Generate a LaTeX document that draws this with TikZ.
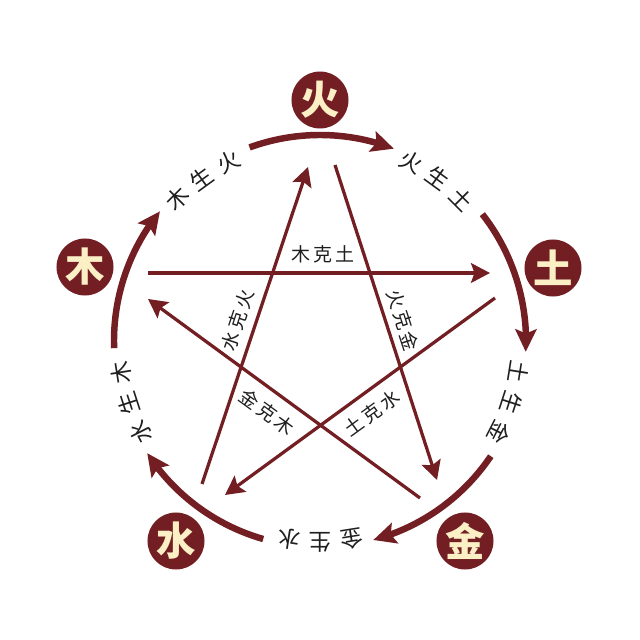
\documentclass[tikz,border=0pt]{standalone}
\usepackage{fontspec}
\newfontfamily\cjk{Noto Sans CJK SC}
\usetikzlibrary{arrows.meta,bending}
\definecolor{wred}{HTML}{721E23}
\definecolor{cream}{HTML}{FBEFC6}
\definecolor{ink}{HTML}{1E1E1E}
\begin{document}
\begin{tikzpicture}[x=0.025cm,y=0.025cm,
  elem/.style={circle, fill=wred, minimum size=1.425cm, inner sep=0pt, text=cream,
    font=\cjk\bfseries\fontsize{28}{28}\selectfont},
  ke/.style={wred, line width=2.3pt, -{Stealth[length=13.5pt,width=14pt,inset=2.5pt]}},
  sheng/.style={wred, line width=4.6pt, -{Stealth[length=16pt,width=15pt,inset=3pt]}},
  lab/.style={font=\cjk\fontsize{13.5}{14}\selectfont, text=ink, inner sep=1pt},
  arclab/.style={font=\cjk\fontsize{16}{16}\selectfont, text=ink, inner sep=0pt}
]
\useasboundingbox (0,0) rectangle (640,640);
\fill[white] (0,0) rectangle (640,640);
\coordinate (c) at (320,299);

% sheng arcs
\foreach \e in {162,90,18,-54,-126}{
  \draw[sheng] ([shift={({\e+20}:206)}]c) arc[start angle=\e+20, end angle=\e-21, radius=5.15cm];
}

% sheng labels along the ring
\foreach \m/\a/\b/\d [count=\i] in {126/木/生/火, 54/火/生/土, -18/土/生/金, -90/金/生/水, 198/水/生/木}{
  \node[arclab, rotate=\m+9-90] (s\i-1) at ([shift={({\m+9}:201)}]c) {\a};
  \node[arclab, rotate=\m-90] (s\i-2) at ([shift={(\m:201)}]c) {\b};
  \node[arclab, rotate=\m-9-90] (s\i-3) at ([shift={({\m-9}:201)}]c) {\d};
}

% ke lines
\coordinate (mkA) at (148,367); \coordinate (mkB) at (490,367);
\coordinate (hjA) at (335,475); \coordinate (hjB) at (437,160);
\coordinate (tsA) at (495,342); \coordinate (tsB) at (225,145);
\coordinate (shA) at (202,156); \coordinate (shB) at (308,473);
\coordinate (jmA) at (420,142); \coordinate (jmB) at (148,341);
\draw[ke] (mkA) -- (mkB);
\draw[ke] (hjA) -- (hjB);
\draw[ke] (tsA) -- (tsB);
\draw[ke] (shA) -- (shB);
\draw[ke] (jmA) -- (jmB);

\node[lab] (l1) at (323,386) {木\,克\,土};
\node[lab, rotate=71.7] (l2) at (238,320) {水\,克\,火};
\node[lab, rotate=-72] (l3) at (403,320) {火\,克\,金};
\node[lab, rotate=-36] (l4) at (267,228) {金\,克\,木};
\node[lab, rotate=36] (l5) at (372,227) {土\,克\,水};

% elements
\node[elem] (huo) at (320,540) {火};
\node[elem] (mu) at (85,373) {木};
\node[elem] (tu) at (553,372) {土};
\node[elem] (shui) at (176,99) {水};
\node[elem] (jin) at (465,99) {金};
\end{tikzpicture}
\end{document}
